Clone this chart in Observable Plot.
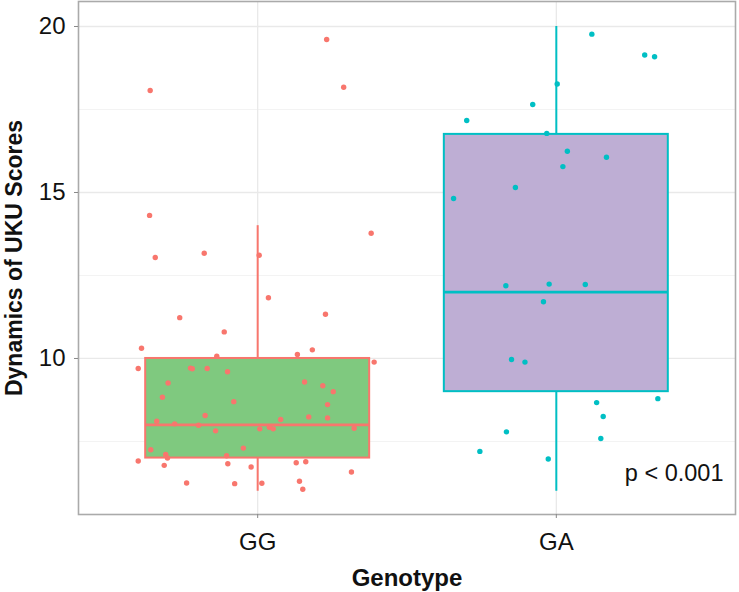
<!DOCTYPE html>
<html>
<head>
<meta charset="utf-8">
<script src="https://cdn.jsdelivr.net/npm/d3@7"></script>
<script src="https://cdn.jsdelivr.net/npm/@observablehq/plot@0.6"></script>
<style>
  html, body { margin: 0; padding: 0; background: #ffffff; }
  #chart svg { display: block; }
</style>
</head>
<body>
<div id="chart"></div>
<script>
// Categories
const genotypes = ["GG", "GA"];
const boxFill = ["#7FC97F", "#BEAED4"];
const edgeColor = ["#F8766D", "#00BFC4"];

// Box statistics
const lowerWhisker = [6, 6];
const q1 = [7, 9];
const medians = [8, 12];
const q3 = [10, 16.75];
const upperWhisker = [14, 20];

// Tick labels
const yTicks = [10, 15, 20];
const yMinor = [7.5, 12.5, 17.5];

// GG points: value and horizontal jitter (in category units)
const ggValues = [19.61, 18.17, 18.07, 14.31, 13.77, 13.04, 13.17, 13.11, 11.83, 11.23,
  11.33, 10.80, 10.31, 10.07, 10.12, 10.26, 9.89, 9.70, 9.71, 9.69,
  9.70, 9.60, 9.26, 9.29, 9.18, 9.00, 8.83, 8.70, 8.61, 8.28,
  8.24, 8.21, 8.16, 8.11, 8.03, 7.99, 7.82, 7.88, 7.93, 7.88,
  7.90, 7.30, 7.25, 7.11, 7.00, 7.07, 6.91, 6.83, 6.86, 6.89,
  6.78, 6.73, 6.58, 6.25, 6.23, 6.24, 6.30, 6.06];
const ggJitter = [0.231, 0.288, -0.360, -0.362, 0.380, -0.343, -0.179, 0.005, 0.036, -0.261,
  0.227, -0.112, -0.389, -0.137, 0.133, 0.183, 0.390, -0.400, -0.225, -0.219,
  -0.169, -0.101, -0.300, 0.157, 0.218, 0.253, -0.319, -0.080, 0.234, -0.176,
  0.171, 0.234, 0.077, -0.338, -0.278, -0.198, -0.141, 0.007, 0.039, 0.052,
  0.323, -0.048, -0.358, -0.308, -0.302, -0.104, -0.400, -0.100, 0.129, 0.161,
  -0.313, -0.022, 0.314, -0.238, -0.077, 0.014, 0.140, 0.151];

// GA points
const gaValues = [19.77, 19.14, 19.09, 18.27, 17.65, 17.17, 16.78, 16.24, 16.06, 15.78,
  15.15, 14.82, 12.19, 12.24, 12.23, 11.71, 9.97, 9.89, 8.79, 8.67,
  8.25, 7.79, 7.59, 7.20, 6.97];
const gaJitter = [0.119, 0.296, 0.329, 0.003, -0.079, -0.300, -0.032, 0.037, 0.168, 0.022,
  -0.137, -0.344, -0.169, -0.024, 0.097, -0.043, -0.150, -0.105, 0.340, 0.135,
  0.157, -0.167, 0.149, -0.256, -0.027];

const pLabel = "p < 0.001";
const xTitle = "Genotype";
const yTitle = "Dynamics of UKU Scores";

// Build tables
const boxes = genotypes.map((g, i) => ({
  g, pos: i + 1, lo: lowerWhisker[i], q1: q1[i], med: medians[i], q3: q3[i], hi: upperWhisker[i],
  fill: boxFill[i], stroke: edgeColor[i]
}));
const points = [
  ...ggValues.map((v, i) => ({g: "GG", pos: 1 + ggJitter[i], v, c: edgeColor[0]})),
  ...gaValues.map((v, i) => ({g: "GA", pos: 2 + gaJitter[i], v, c: edgeColor[1]}))
];
const halfBox = 0.375;

const chart = Plot.plot({
  width: 739,
  height: 592,
  marginLeft: 78,
  marginRight: 4,
  marginTop: 1,
  marginBottom: 78,
  style: {fontFamily: "'Liberation Sans', Arial, sans-serif", background: "#ffffff", color: "#1a1a1a"},
  x: {type: "linear", domain: [0.4, 2.6], axis: null},
  y: {domain: [5.3, 20.753], axis: null},
  marks: [
    Plot.gridY(yMinor, {stroke: "#f3f3f3", strokeOpacity: 1, strokeWidth: 1}),
    Plot.gridY(yTicks, {stroke: "#e9e9e9", strokeOpacity: 1, strokeWidth: 1.3}),
    Plot.gridX([1, 2], {stroke: "#e9e9e9", strokeOpacity: 1, strokeWidth: 1.3}),
    // whiskers
    Plot.ruleX(boxes, {x: "pos", y1: "q3", y2: "hi", stroke: "stroke", strokeWidth: 2}),
    Plot.ruleX(boxes, {x: "pos", y1: "lo", y2: "q1", stroke: "stroke", strokeWidth: 2}),
    // boxes
    Plot.rect(boxes, {x1: d => d.pos - halfBox, x2: d => d.pos + halfBox, y1: "q1", y2: "q3",
      fill: "fill", stroke: "stroke", strokeWidth: 2}),
    Plot.ruleY(boxes, {y: "med", x1: d => d.pos - halfBox, x2: d => d.pos + halfBox,
      stroke: "stroke", strokeWidth: 2.6}),
    // jittered points
    Plot.dot(points, {x: "pos", y: "v", r: 2.7, fill: "c", stroke: "none"}),
    Plot.frame({stroke: "#aaaaaa", strokeWidth: 1.6}),
    // axes
    Plot.axisY(yTicks, {tickSize: 4, tickPadding: 9, fontSize: 24, stroke: "#888888", fill: "#111111", label: null}),
    Plot.axisX([1, 2], {tickSize: 4, tickPadding: 14, fontSize: 24, stroke: "#888888", fill: "#111111",
      tickFormat: d => genotypes[d - 1], label: null}),
    // annotation
    Plot.text([pLabel], {frameAnchor: "bottom-right", dx: -12, dy: -41, lineAnchor: "middle",
      fontSize: 23.5, fill: "#111111"}),
    // titles
    Plot.text([xTitle], {frameAnchor: "bottom", dy: 64, lineAnchor: "middle", textAnchor: "middle",
      fontSize: 24, fontWeight: "bold", fill: "#111111"}),
    Plot.text([yTitle], {frameAnchor: "left", dx: -64, rotate: -90, lineAnchor: "middle", textAnchor: "middle",
      fontSize: 23, fontWeight: "bold", fill: "#111111"})
  ]
});
document.getElementById("chart").appendChild(chart);
</script>
</body>
</html>
